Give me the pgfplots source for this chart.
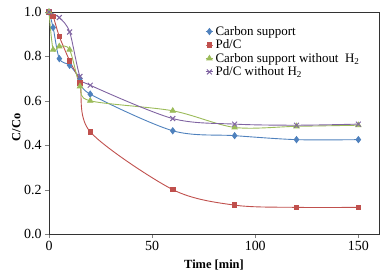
\documentclass[border=0pt]{standalone}
\usepackage{fontspec}
\setmainfont{Liberation Serif}
\usepackage{pgfplots}
\pgfplotsset{compat=1.18}
\definecolor{cblue}{HTML}{4F81BD}
\definecolor{cred}{HTML}{C0504D}
\definecolor{cgreen}{HTML}{9BBB59}
\definecolor{cpurple}{HTML}{8064A2}
\begin{document}
\begin{tikzpicture}
\begin{axis}[
  scale only axis,
  width=330bp, height=222bp,
  xmin=0, xmax=160, ymin=0, ymax=1,
  xtick={0,50,100,150},
  ytick={0,0.2,0.4,0.6,0.8,1.0},
  yticklabel style={/pgf/number format/.cd,fixed,fixed zerofill,precision=1},
  /pgf/number format/assume math mode=true,
  tick align=outside, tick pos=left,
  major tick length=4bp,
  ticklabel style={font=\fontsize{14}{16}\selectfont},
  xlabel={\textbf{Time [min]}},
  ylabel={\textbf{C/Co}},
  label style={font=\fontsize{12.5}{14}\selectfont},
  xlabel style={at={(rel axis cs:0.5,0)}, yshift=-22bp, anchor=north},
  ylabel style={at={(rel axis cs:0,0.48)}, yshift=25bp, anchor=south},
  axis line style={line width=0.9pt, black!80},
  legend style={at={(0.47,0.95)}, anchor=north west, draw=none, fill=none,
    font=\fontsize{13}{15}\selectfont, row sep=-1bp,
    inner sep=1pt},
  legend cell align=left,
  legend image code/.code={
    \draw[mark repeat=2,mark phase=2] plot coordinates {(0cm,0cm) (0.13cm,0cm) (0.26cm,0cm)};
  },
  every axis plot/.append style={line width=0.9pt, smooth, tension=0.5},
]
\coordinate (bl) at (rel axis cs:0,0);
\coordinate (tr) at (rel axis cs:1,1);
\addplot[color=cblue, mark=diamond*, mark size=3pt, mark options={fill=cblue}] coordinates {
  (0,1.0) (2,0.93) (5,0.79) (10,0.76) (15,0.70) (20,0.63) (60,0.465) (90,0.443) (120,0.425) (150,0.425)};
\addlegendentry{Carbon support}
\addplot[color=cred, mark=square*, mark size=2.3pt, mark options={fill=cred}] coordinates {
  (0,1.0) (2,0.98) (5,0.89) (10,0.78) (15,0.68) (20,0.46) (60,0.20) (90,0.13) (120,0.12) (150,0.12)};
\addlegendentry{Pd/C}
\addplot[color=cgreen, mark=triangle*, mark size=3pt, mark options={fill=cgreen}] coordinates {
  (0,1.0) (2,0.83) (5,0.845) (10,0.83) (15,0.665) (20,0.60) (60,0.555) (90,0.48) (120,0.485) (150,0.49)};
\addlegendentry{Carbon support without \ H\textsubscript{2}}
\addplot[color=cpurple, mark=x, mark size=3.5pt, mark options={line width=1pt}] coordinates {
  (0,1.0) (5,0.975) (10,0.91) (15,0.71) (20,0.67) (60,0.52) (90,0.495) (120,0.49) (150,0.495)};
\addlegendentry{Pd/C without H\textsubscript{2}}
\end{axis}
\pgfresetboundingbox
\path ([xshift=-49bp,yshift=-44bp]bl) rectangle ([xshift=10bp,yshift=12bp]tr);
\end{tikzpicture}
\end{document}
